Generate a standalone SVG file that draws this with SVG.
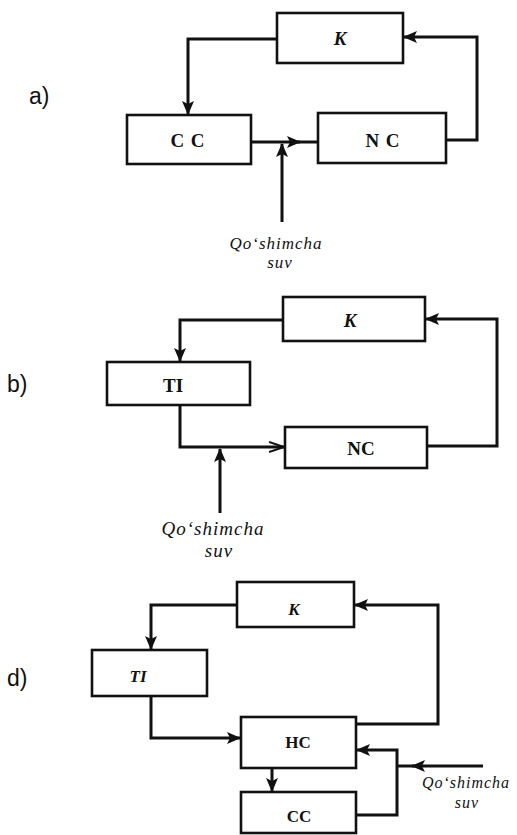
<svg xmlns="http://www.w3.org/2000/svg" width="517" height="835" viewBox="0 0 517 835">
<style>
.box{fill:#fff;stroke:#111;stroke-width:2.6}
.ln{fill:none;stroke:#111;stroke-width:3;stroke-linejoin:miter}
.lbl{font-family:"Liberation Serif","Times New Roman",serif;font-weight:bold;fill:#111;text-anchor:middle}
.it{font-style:italic}
.tag{font-family:"Liberation Sans",Arial,sans-serif;font-size:23px;fill:#111}
.sup{font-family:"Liberation Serif","Times New Roman",serif;font-style:italic;fill:#111;text-anchor:middle;letter-spacing:1px}
</style>
<defs>
<marker id="ah" markerUnits="userSpaceOnUse" markerWidth="14" markerHeight="12" refX="13" refY="6" orient="auto">
<path d="M0,0 L14,6 L0,12 L3,6 Z" fill="#111"/>
</marker>
<marker id="ao" markerUnits="userSpaceOnUse" markerWidth="16" markerHeight="12" refX="15" refY="6" orient="auto">
<path d="M0,1 L15,6 L0,11" fill="none" stroke="#111" stroke-width="2"/>
</marker>
</defs>
<rect width="517" height="835" fill="#fff"/>

<!-- panel a -->
<text class="tag" x="29" y="104">a)</text>
<g id="connectors-a">
<path class="ln" d="M277,39 H188 V114" marker-end="url(#ah)"/>
<path class="ln" d="M446,140 H477 V37 H404" marker-end="url(#ah)"/>
<path class="ln" d="M251,142 H300" marker-end="url(#ah)"/>
<path class="ln" d="M298,142 H318"/>
<path class="ln" d="M282,222 V144" marker-end="url(#ah)"/>
</g>
<g id="a-K"><rect class="box" x="277" y="13" width="126" height="50"/><text class="lbl it" x="340" y="45" font-size="19">K</text></g>
<g id="a-CC"><rect class="box" x="127" y="115" width="124" height="49"/><text class="lbl" x="188" y="147" font-size="19" letter-spacing="1">C C</text></g>
<g id="a-NC"><rect class="box" x="318" y="113" width="128" height="50"/><text class="lbl" x="383" y="147" font-size="19" letter-spacing="1">N C</text></g>
<g id="a-supply"><text class="sup" x="276" y="249" font-size="17">Qo‘shimcha</text><text class="sup" x="280" y="268" font-size="17">suv</text></g>

<!-- panel b -->
<text class="tag" x="7" y="392">b)</text>
<g id="connectors-b">
<path class="ln" d="M283,320 H180 V361" marker-end="url(#ah)"/>
<path class="ln" d="M180,405 V447 H284" marker-end="url(#ao)"/>
<path class="ln" d="M427,446 H497 V319 H426" marker-end="url(#ah)"/>
<path class="ln" d="M220,513 V449" marker-end="url(#ah)"/>
</g>
<g id="b-K"><rect class="box" x="283" y="297" width="142" height="44"/><text class="lbl it" x="350" y="327" font-size="19">K</text></g>
<g id="b-TI"><rect class="box" x="107" y="362" width="143" height="43"/><text class="lbl" x="173" y="392" font-size="19">TI</text></g>
<g id="b-NC"><rect class="box" x="285" y="427" width="142" height="41"/><text class="lbl" x="361" y="455" font-size="19">NC</text></g>
<g id="b-supply"><text class="sup" x="213" y="535" font-size="19">Qo‘shimcha</text><text class="sup" x="219" y="557" font-size="19">suv</text></g>

<!-- panel d -->
<text class="tag" x="7" y="686">d)</text>
<g id="connectors-d">
<path class="ln" d="M237,605 H151 V649" marker-end="url(#ah)"/>
<path class="ln" d="M151,696 V738 H240" marker-end="url(#ah)"/>
<path class="ln" d="M356,724 H438 V605 H355" marker-end="url(#ah)"/>
<path class="ln" d="M272,768 V791" marker-end="url(#ah)"/>
<path class="ln" d="M356,815 H397 V750 H357" marker-end="url(#ah)"/>
<path class="ln" d="M483,766 H412" marker-end="url(#ah)"/>
<path class="ln" d="M414,766 H396"/>
</g>
<g id="d-K"><rect class="box" x="237" y="582" width="117" height="45"/><text class="lbl it" x="294" y="615" font-size="17">K</text></g>
<g id="d-TI"><rect class="box" x="92" y="650" width="115" height="46"/><text class="lbl it" x="138" y="682" font-size="17">TI</text></g>
<g id="d-HC"><rect class="box" x="241" y="717" width="115" height="51"/><text class="lbl" x="298" y="748" font-size="17">HC</text></g>
<g id="d-CC"><rect class="box" x="241" y="792" width="115" height="41"/><text class="lbl" x="299" y="822" font-size="17">CC</text></g>
<g id="d-supply"><text class="sup" x="466" y="788" font-size="16">Qo‘shimcha</text><text class="sup" x="467" y="808" font-size="16">suv</text></g>
</svg>
